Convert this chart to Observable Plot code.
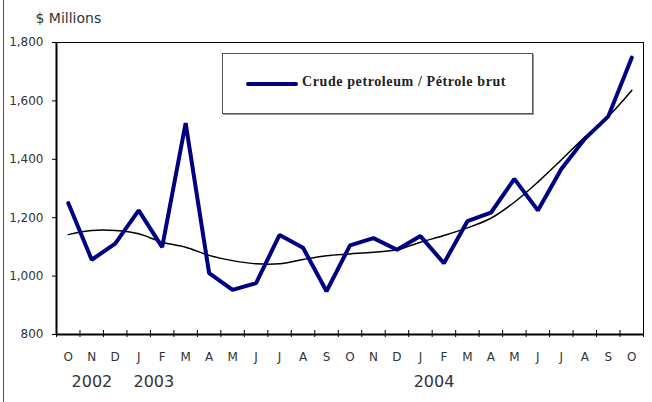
<!DOCTYPE html>
<html>
<head>
<meta charset="utf-8">
<script src="https://cdn.jsdelivr.net/npm/d3@7"></script>
<script src="https://cdn.jsdelivr.net/npm/@observablehq/plot@0.6"></script>
<style>
  html, body { margin: 0; padding: 0; background: #fff; }
  #wrap { position: relative; width: 652px; height: 402px; overflow: hidden; }
  #edge { position: absolute; left: 3px; top: 0; width: 1px; height: 402px; background: #555; }
  #legend { position: absolute; left: 222px; top: 53px; width: 311px; height: 61px;
    border: 1px solid #555; box-shadow: 1px 1px 0 #999; background: #fff; box-sizing: border-box; }
  #legend .sw { position: absolute; left: 23px; top: 28px; width: 52px; height: 4px; background: #000080; border-radius: 2px; }
  #legend .lb { position: absolute; left: 79px; top: 20px; font-family: "Liberation Serif", serif; font-weight: bold;
    font-size: 14px; letter-spacing: 0.6px; color: #222; white-space: nowrap; }
</style>
</head>
<body>
<div id="wrap">
  <div id="chart"></div>
  <div id="edge"></div>
  <div id="legend"><div class="sw"></div><div class="lb">Crude petroleum / Pétrole brut</div></div>
</div>
<script>
const months = ["O","N","D","J","F","M","A","M","J","J","A","S","O","N","D","J","F","M","A","M","J","J","A","S","O"];
const crude = [1250,1056,1111,1225,1099,1524,1010,953,976,1141,1097,948,1105,1130,1090,1137,1044,1188,1217,1333,1225,1367,1470,1547,1748];
const trend = [1142,1156,1156,1145,1116,1099,1071,1053,1042,1042,1057,1070,1076,1082,1090,1116,1139,1165,1198,1253,1322,1398,1476,1547,1636];
const yearLabels = ["2002","2003","2004"];
const yearPos = [0.14, 2.78, 14.71];
const yTicks = [800,1000,1200,1400,1600,1800];

const idx = months.map((_, i) => i);
const bounds = d3.range(months.length + 1).map(i => i - 0.5);
const crudeData = idx.map(i => ({i, v: crude[i]}));
const trendData = idx.map(i => ({i, v: trend[i]}));
const years = yearLabels.map((t, k) => ({t, i: yearPos[k]}));

const font = "DejaVu Sans, sans-serif";

const chart = Plot.plot({
  width: 652,
  height: 402,
  marginLeft: 56,
  marginRight: 9,
  marginTop: 42,
  marginBottom: 68,
  style: {fontFamily: font, fontSize: "12px", color: "#333", background: "#fff"},
  x: {domain: [-0.5, months.length - 0.5]},
  y: {domain: [800, 1800]},
  marks: [
    Plot.frame({stroke: "#000", strokeWidth: 1}),
    Plot.axisY(yTicks, {tickSize: 4, tickPadding: 9, tickFormat: d3.format(","), stroke: "#000", fill: "#333", label: null}),
    Plot.axisX(bounds, {tickSize: 7, dy: -4, text: null, stroke: "#000", label: null}),
    Plot.axisX(idx, {tickSize: 0, tickPadding: 18, tickFormat: i => months[i], fill: "#333", label: null}),
    Plot.text(years, {x: "i", text: "t", frameAnchor: "bottom", dy: 52, textAnchor: "start", fill: "#333", fontSize: 16}),
    Plot.text(["$ Millions"], {frameAnchor: "top-left", dx: -21, dy: -29, textAnchor: "start", fill: "#333", fontSize: 14}),
    Plot.ruleX([-0.5], {stroke: "#000", strokeWidth: 2}),
    Plot.ruleY([800], {stroke: "#000", strokeWidth: 2}),
    Plot.line(trendData, {x: "i", y: "v", stroke: "#000", strokeWidth: 1.5, curve: "catmull-rom"}),
    Plot.line(crudeData, {x: "i", y: "v", stroke: "#000080", strokeWidth: 4, strokeLinejoin: "miter"})
  ]
});
document.getElementById("chart").appendChild(chart);
</script>
</body>
</html>
